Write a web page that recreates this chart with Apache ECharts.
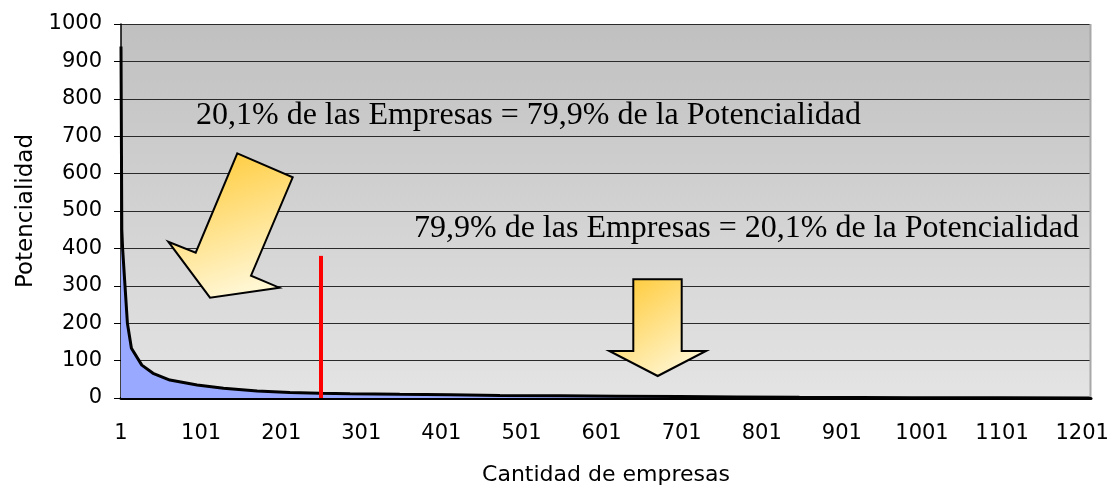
<!DOCTYPE html>
<html>
<head>
<meta charset="utf-8">
<script src="https://cdn.jsdelivr.net/npm/echarts@6/dist/echarts.min.js"></script>
<style>
  html, body { margin: 0; padding: 0; background: #fff; }
  #chart { width: 1116px; height: 488px; }
</style>
</head>
<body>
<div id="chart"></div>
<script>
// company rank (x) and potential (y)
const companies = [1, 2, 3, 6, 9, 14, 27, 41, 62, 96, 129, 171, 212, 249, 287, 349, 412, 474, 549, 620, 698, 770, 848, 923, 988, 1098, 1211];
const potential = [940, 450, 400, 300, 200, 133, 88, 66, 48, 35, 26, 19, 15, 12.5, 11.5, 10, 8.5, 7, 6, 5, 4, 3, 2, 1.5, 1, 0.5, 0.2];
const xTicks = [1, 101, 201, 301, 401, 501, 601, 701, 801, 901, 1001, 1101, 1201];
const yMin = 0, yMax = 1000, yStep = 100;
// red cut-off marker
const cutoffCompany = 251;
const cutoffTop = 380;

const text1 = "20,1% de las Empresas = 79,9% de la Potencialidad";
const text2 = "79,9% de las Empresas = 20,1% de la Potencialidad";

const chart = echarts.init(document.getElementById("chart"));

const arrowFill = (x2, y2) => new echarts.graphic.LinearGradient(0, 0, x2, y2, [
  { offset: 0, color: "#ffc72c" },
  { offset: 1, color: "#fff6d2" },
]);

const option = {
  animation: false,
  backgroundColor: "#fff",
  grid: {
    left: 121,
    right: 25,
    top: 24,
    bottom: 90,
    show: true,
    borderWidth: 0,
    backgroundColor: new echarts.graphic.LinearGradient(0, 0, 0, 1, [
      { offset: 0, color: "#c0c0c0" },
      { offset: 1, color: "#e4e4e4" },
    ]),
    outerBoundsMode: "none",
  },
  xAxis: {
    type: "value",
    min: 1,
    max: 1212,
    name: "Cantidad de empresas",
    nameLocation: "middle",
    nameGap: 66,
    nameTextStyle: { fontFamily: "DejaVu Sans", fontSize: 22, color: "#000" },
    axisLine: { show: true, onZero: false, lineStyle: { color: "#000", width: 3 } },
    axisTick: { show: false },
    splitLine: { show: false },
    axisLabel: {
      customValues: xTicks,
      margin: 25,
      fontFamily: "DejaVu Sans",
      fontSize: 21,
      color: "#000",
      formatter: (v) => String(v),
    },
  },
  yAxis: {
    type: "value",
    min: yMin,
    max: yMax,
    interval: yStep,
    name: "Potencialidad",
    nameLocation: "middle",
    nameGap: 82,
    nameRotate: 90,
    nameTextStyle: { fontFamily: "DejaVu Sans", fontSize: 23, color: "#000" },
    axisLine: { show: true, lineStyle: { color: "#000", width: 1.5 } },
    axisTick: { show: true, length: 7, lineStyle: { color: "#000" } },
    splitLine: { show: true, lineStyle: { color: "#2a2a2a", width: 1 } },
    axisLabel: {
      margin: 19,
      fontFamily: "DejaVu Sans",
      fontSize: 21,
      color: "#000",
      formatter: (v) => String(v),
    },
  },
  series: [
    {
      type: "line",
      data: companies.map((c, i) => [c, potential[i]]),
      symbol: "none",
      smooth: false,
      lineStyle: { color: "#000", width: 3 },
      areaStyle: { color: "#99a9ff", opacity: 1 },
      markLine: {
        silent: true,
        symbol: "none",
        label: { show: false },
        lineStyle: { color: "#ff0000", width: 4, type: "solid" },
        data: [[{ coord: [cutoffCompany, 0] }, { coord: [cutoffCompany, cutoffTop] }]],
      },
      z: 3,
    },
  ],
  graphic: [
    // right edge of the plot area
    {
      type: "line",
      z: 5,
      shape: { x1: 1090.5, y1: 24, x2: 1090.5, y2: 397 },
      style: { stroke: "#a8a8a8", lineWidth: 2 },
    },
    {
      type: "polygon",
      z: 10,
      shape: {
        points: [[237.3, 153.3], [292.7, 177.3], [251, 275.7], [279.3, 287.7], [210, 297.7], [168.3, 241.7], [195.7, 252.7]],
      },
      style: { fill: arrowFill(0.4, 1), stroke: "#000", lineWidth: 2 },
    },
    {
      type: "polygon",
      z: 10,
      shape: {
        points: [[633.3, 279.3], [681.7, 279.3], [681.7, 351], [706, 351], [657.7, 376], [609.3, 351], [633.3, 351]],
      },
      style: { fill: arrowFill(0.7, 1), stroke: "#000", lineWidth: 2 },
    },
    {
      type: "text",
      z: 10,
      style: {
        x: 196,
        y: 116,
        text: text1,
        font: "32px 'Liberation Serif'",
        fill: "#000",
        textAlign: "left",
        textVerticalAlign: "middle",
      },
    },
    {
      type: "text",
      z: 10,
      style: {
        x: 414,
        y: 229,
        text: text2,
        font: "32px 'Liberation Serif'",
        fill: "#000",
        textAlign: "left",
        textVerticalAlign: "middle",
      },
    },
  ],
};

chart.setOption(option);
</script>
</body>
</html>
